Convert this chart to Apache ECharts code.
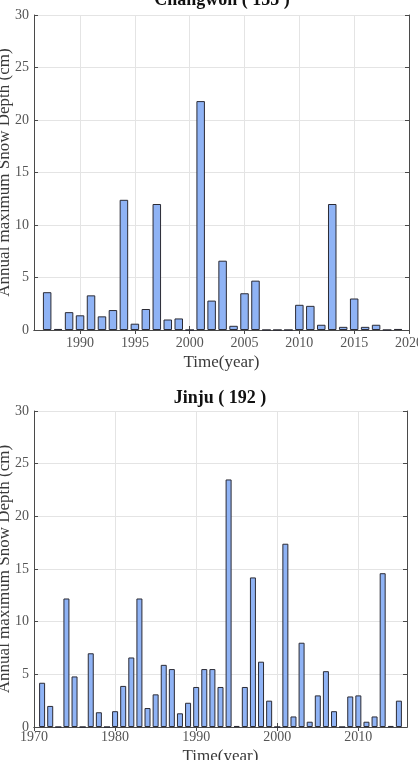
<!DOCTYPE html>
<html>
<head>
<meta charset="utf-8">
<title>Annual maximum snow depth</title>
<script src="https://cdn.jsdelivr.net/npm/echarts@6/dist/echarts.min.js"></script>
<style>
  html, body { margin: 0; padding: 0; background: #fff; }
  #chart { width: 418px; height: 760px; }
</style>
</head>
<body>
<div id="chart"></div>
<script>
// Changwon (155)
const changwonYears = [1987, 1988, 1989, 1990, 1991, 1992, 1993, 1994, 1995, 1996, 1997,
  1998, 1999, 2000, 2001, 2002, 2003, 2004, 2005, 2006, 2007, 2008, 2009, 2010, 2011,
  2012, 2013, 2014, 2015, 2016, 2017, 2018, 2019];
const changwonDepth = [3.6, 0.1, 1.7, 1.4, 3.3, 1.3, 1.9, 12.4, 0.6, 2.0, 12.0,
  1.0, 1.1, 0, 21.8, 2.8, 6.6, 0.4, 3.5, 4.7, 0, 0, 0, 2.4, 2.3,
  0.5, 12.0, 0.3, 3.0, 0.3, 0.5, 0, 0.1];
const changwonTicks = [1990, 1995, 2000, 2005, 2010, 2015, 2020];

// Jinju (192)
const jinjuYears = [1971, 1972, 1973, 1974, 1975, 1976, 1977, 1978, 1979, 1980, 1981,
  1982, 1983, 1984, 1985, 1986, 1987, 1988, 1989, 1990, 1991, 1992, 1993, 1994, 1995,
  1996, 1997, 1998, 1999, 2000, 2001, 2002, 2003, 2004, 2005, 2006, 2007, 2008, 2009,
  2010, 2011, 2012, 2013, 2014, 2015];
const jinjuDepth = [4.2, 2.0, 0, 12.2, 4.8, 0, 7.0, 1.4, 0, 1.5, 3.9,
  6.6, 12.2, 1.8, 3.1, 5.9, 5.5, 1.3, 2.3, 3.8, 5.5, 5.5, 3.8, 23.5, 0.1,
  3.8, 14.2, 6.2, 2.5, 0, 17.4, 1.0, 8.0, 0.5, 3.0, 5.3, 1.5, 0, 2.9,
  3.0, 0.5, 1.0, 14.6, 0.1, 2.5];
const jinjuTicks = [1970, 1980, 1990, 2000, 2010];

const depthMin = 0, depthMax = 30, depthStep = 5;

const font = 'Liberation Serif';
const frameColor = '#4a4a4a';
const gridColor = '#e4e4e4';

function xAxes(gridIndex, min, max, ticks, labelMargin, nameGap) {
  return [{
    type: 'value', gridIndex, min, max, position: 'bottom',
    name: 'Time(year)', nameLocation: 'middle', nameGap, nameMoveOverlap: false,
    nameTextStyle: { fontFamily: font, fontSize: 17, color: '#3a3a3a' },
    axisLine: { lineStyle: { color: frameColor, width: 1 } },
    axisTick: { inside: true, length: 4, customValues: ticks, lineStyle: { color: frameColor } },
    axisLabel: {
      customValues: ticks, margin: labelMargin, formatter: v => String(v),
      fontFamily: font, fontSize: 14, color: '#555'
    },
    splitLine: { show: true, lineStyle: { color: gridColor, width: 1 } }
  }, {
    type: 'value', gridIndex, min, max, position: 'top',
    axisLine: { lineStyle: { color: frameColor, width: 1 } },
    axisTick: { inside: true, length: 4, customValues: ticks, lineStyle: { color: frameColor } },
    axisLabel: { show: false },
    splitLine: { show: false }
  }];
}

function yAxes(gridIndex) {
  return [{
    type: 'value', gridIndex, min: depthMin, max: depthMax, interval: depthStep, position: 'left',
    name: 'Annual maximum Snow Depth (cm)', nameLocation: 'middle', nameGap: 21, nameMoveOverlap: false,
    nameTextStyle: { fontFamily: font, fontSize: 17, color: '#3a3a3a' },
    axisLine: { show: true, lineStyle: { color: frameColor, width: 1 } },
    axisTick: { show: true, inside: true, length: 4, lineStyle: { color: frameColor } },
    axisLabel: { margin: 5, fontFamily: font, fontSize: 14, color: '#555' },
    splitLine: { show: true, lineStyle: { color: gridColor, width: 1 } }
  }, {
    type: 'value', gridIndex, min: depthMin, max: depthMax, interval: depthStep, position: 'right',
    axisLine: { show: true, lineStyle: { color: frameColor, width: 1 } },
    axisTick: { show: true, inside: true, length: 4, lineStyle: { color: frameColor } },
    axisLabel: { show: false },
    splitLine: { show: false }
  }];
}

function bars(xAxisIndex, yAxisIndex, years, depth, width) {
  return {
    type: 'bar', xAxisIndex, yAxisIndex,
    data: years.map((y, i) => [y, depth[i]]),
    barWidth: width,
    itemStyle: { color: '#8fb3f5', borderColor: '#2b2b35', borderWidth: 1 },
    silent: true
  };
}

const chart = echarts.init(document.getElementById('chart'), null, { renderer: 'canvas' });

chart.setOption({
  backgroundColor: '#fff',
  animation: false,
  graphic: [
    { type: 'text', x: 222, y: 0, style: { text: 'Changwon ( 155 )', font: 'bold 18px "Liberation Serif"', fill: '#111', textAlign: 'center', textVerticalAlign: 'middle' } },
    { type: 'text', x: 220, y: 398, style: { text: 'Jinju ( 192 )', font: 'bold 18px "Liberation Serif"', fill: '#111', textAlign: 'center', textVerticalAlign: 'middle' } }
  ],
  grid: [
    { left: 34, top: 15, width: 375, height: 315, containLabel: false, outerBoundsMode: 'none' },
    { left: 34, top: 411, width: 373, height: 316, containLabel: false, outerBoundsMode: 'none' }
  ],
  xAxis: [
    ...xAxes(0, 1985.8, 2020, changwonTicks, 6, 24),
    ...xAxes(1, 1970, 2016, jinjuTicks, 3, 21)
  ],
  yAxis: [...yAxes(0), ...yAxes(1)],
  series: [
    bars(0, 0, changwonYears, changwonDepth, 8.5),
    bars(2, 2, jinjuYears, jinjuDepth, 6)
  ]
});

window.addEventListener('resize', () => chart.resize());
</script>
</body>
</html>
